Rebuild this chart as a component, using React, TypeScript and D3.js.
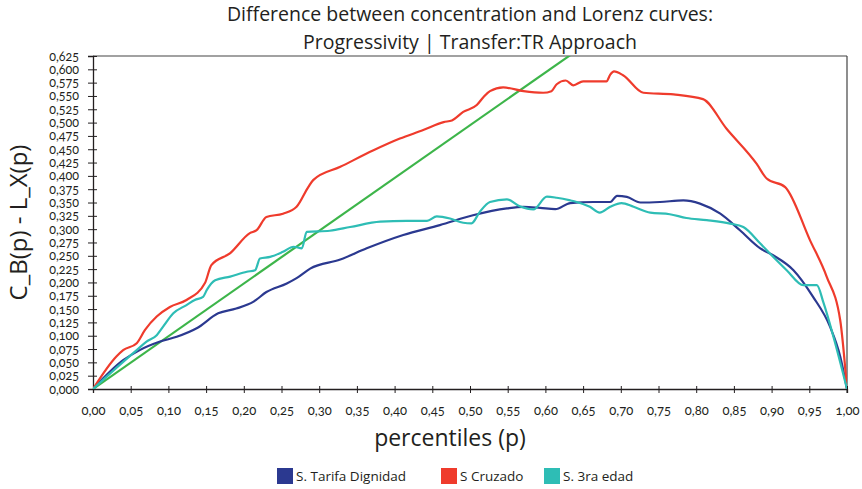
import React, { useEffect, useRef } from "react";
import * as d3 from "d3";

// percentile grid + values, one series at a time
const bluePct = [0, 0.04, 0.062, 0.089, 0.111, 0.1375, 0.166, 0.19, 0.213, 0.23, 0.257, 0.27, 0.288, 0.328, 0.363, 0.4115, 0.46, 0.504, 0.549, 0.571, 0.593, 0.613, 0.633, 0.664, 0.686, 0.695, 0.708, 0.726, 0.752, 0.783, 0.805, 0.832, 0.858, 0.885, 0.902, 0.929, 0.955, 0.9775, 0.991, 1];
const blueVals = [0, 0.054, 0.073, 0.089, 0.098, 0.114, 0.142, 0.151, 0.164, 0.182, 0.198, 0.208, 0.226, 0.243, 0.264, 0.289, 0.3075, 0.326, 0.339, 0.342, 0.34, 0.3375, 0.349, 0.351, 0.351, 0.3625, 0.3606, 0.35, 0.351, 0.354, 0.348, 0.329, 0.298, 0.264, 0.251, 0.223, 0.173, 0.117, 0.061, 0];

const redPct = [0, 0.031, 0.04, 0.058, 0.069, 0.0845, 0.102, 0.124, 0.1485, 0.157, 0.182, 0.208, 0.217, 0.23, 0.252, 0.27, 0.2855, 0.292, 0.328, 0.372, 0.407, 0.438, 0.465, 0.476, 0.491, 0.509, 0.518, 0.5265, 0.544, 0.571, 0.597, 0.608, 0.615, 0.627, 0.637, 0.65, 0.681, 0.686, 0.691, 0.703, 0.73, 0.77, 0.809, 0.84, 0.88, 0.8935, 0.918, 0.951, 0.973, 0.991, 1];
const redVals = [0, 0.061, 0.073, 0.086, 0.111, 0.136, 0.154, 0.167, 0.199, 0.2325, 0.255, 0.2925, 0.298, 0.323, 0.329, 0.342, 0.379, 0.392, 0.417, 0.448, 0.47, 0.486, 0.501, 0.504, 0.52, 0.533, 0.548, 0.559, 0.566, 0.559, 0.556, 0.559, 0.572, 0.579, 0.57, 0.5775, 0.5775, 0.59, 0.596, 0.589, 0.556, 0.553, 0.544, 0.489, 0.423, 0.395, 0.379, 0.279, 0.211, 0.129, 0];

const tealPct = [0, 0.04, 0.058, 0.071, 0.0845, 0.093, 0.1065, 0.124, 0.135, 0.146, 0.151, 0.162, 0.182, 0.204, 0.215, 0.2215, 0.235, 0.252, 0.266, 0.277, 0.2834, 0.314, 0.341, 0.381, 0.416, 0.443, 0.456, 0.4735, 0.491, 0.502, 0.513, 0.5265, 0.549, 0.566, 0.584, 0.602, 0.615, 0.633, 0.6415, 0.659, 0.672, 0.686, 0.701, 0.717, 0.739, 0.765, 0.787, 0.814, 0.845, 0.8625, 0.885, 0.898, 0.92, 0.942, 0.96, 0.969, 0.982, 1];
const tealVals = [0, 0.051, 0.073, 0.089, 0.101, 0.117, 0.142, 0.1575, 0.167, 0.173, 0.186, 0.204, 0.211, 0.22, 0.223, 0.245, 0.248, 0.2575, 0.267, 0.264, 0.295, 0.297, 0.304, 0.314, 0.3156, 0.3156, 0.324, 0.32, 0.312, 0.311, 0.3325, 0.351, 0.356, 0.343, 0.337, 0.361, 0.359, 0.354, 0.351, 0.342, 0.331, 0.342, 0.349, 0.342, 0.331, 0.328, 0.321, 0.317, 0.3105, 0.304, 0.273, 0.254, 0.223, 0.195, 0.195, 0.161, 0.098, 0];

// the diagonal reference line
const greenPct = [0, 1];
const greenVals = [0, 0.99];

const xTicks = d3.range(0, 21).map((i) => i * 0.05);
const yTicks = d3.range(0, 26).map((i) => i * 0.025);

const legendNames = ["S. Tarifa Dignidad", "S Cruzado", "S. 3ra edad"];

const App = () => {
  const chartRef = useRef(null);

  useEffect(() => {
    d3.select(chartRef.current).selectAll("*").remove();

    const width = 862;
    const height = 489;
    const margin = { top: 56, right: 15, bottom: 100, left: 93 };

    const svg = d3.select(chartRef.current).attr("width", width).attr("height", height);

    const x = d3.scaleLinear().domain([0, 1]).range([margin.left, width - margin.right]);
    const y = d3.scaleLinear().domain([0, 0.625]).range([height - margin.bottom, margin.top]);

    const font = "'Open Sans', Lato, sans-serif";
    const tickFont = "Lato, sans-serif";

    // title
    const title = svg.append("text")
      .attr("x", (x(0) + x(1)) / 2)
      .attr("text-anchor", "middle")
      .attr("fill", "#231f20")
      .style("font-family", font)
      .style("font-size", "19.5px");
    title.append("tspan").attr("x", (x(0) + x(1)) / 2).attr("y", 21).text("Difference between concentration and Lorenz curves:");
    title.append("tspan").attr("x", (x(0) + x(1)) / 2).attr("y", 49).text("Progressivity | Transfer:TR Approach");

    // frame top + right
    svg.append("line").attr("x1", x(0)).attr("x2", x(1)).attr("y1", y(0.625)).attr("y2", y(0.625)).attr("stroke", "#444").attr("stroke-width", 1.2);
    svg.append("line").attr("x1", x(1)).attr("x2", x(1)).attr("y1", y(0.625)).attr("y2", y(0) + 4).attr("stroke", "#444").attr("stroke-width", 1.2);

    const fmtX = (d) => d3.format(".2f")(d).replace(".", ",");
    const fmtY = (d) => d3.format(".3f")(d).replace(".", ",");

    const yAxis = svg.append("g")
      .attr("transform", `translate(${x(0)},0)`)
      .call(d3.axisLeft(y).tickValues(yTicks).tickFormat(fmtY).tickSizeOuter(0).tickSize(5).tickPadding(9));
    yAxis.selectAll(".tick line").attr("x2", -5).attr("x1", 4).attr("stroke", "#231f20");
    yAxis.select(".domain").attr("stroke", "#231f20").attr("stroke-width", 1.3);
    yAxis.selectAll("text").attr("fill", "#231f20").style("font-family", tickFont).style("font-size", "12.5px").style("font-variant-numeric", "oldstyle-nums");

    const xAxis = svg.append("g")
      .attr("transform", `translate(0,${y(0)})`)
      .call(d3.axisBottom(x).tickValues(xTicks).tickFormat(fmtX).tickSizeOuter(0).tickSize(4).tickPadding(13));
    xAxis.selectAll(".tick line").attr("y1", -3).attr("y2", 4).attr("stroke", "#231f20");
    xAxis.select(".domain").attr("stroke", "#231f20").attr("stroke-width", 1.3);
    xAxis.selectAll("text").attr("fill", "#231f20").style("font-family", tickFont).style("font-size", "13px").style("font-variant-numeric", "oldstyle-nums");

    // axis titles
    svg.append("text")
      .attr("transform", `translate(27,${(y(0) + y(0.625)) / 2}) rotate(-90)`)
      .attr("text-anchor", "middle")
      .attr("fill", "#231f20")
      .style("font-family", font)
      .style("font-size", "24px")
      .text("C_B(p) - L_X(p)");

    svg.append("text")
      .attr("x", 450)
      .attr("y", 446)
      .attr("text-anchor", "middle")
      .attr("fill", "#231f20")
      .style("font-family", font)
      .style("font-size", "23px")
      .text("percentiles (p)");

    svg.append("clipPath").attr("id", "plotClip")
      .append("rect")
      .attr("x", x(0)).attr("y", y(0.625))
      .attr("width", x(1) - x(0)).attr("height", y(0) - y(0.625));

    const series = [
      { p: greenPct, v: greenVals, color: "#3db54a", curve: d3.curveLinear },
      { p: bluePct, v: blueVals, color: "#2b3990", curve: d3.curveMonotoneX },
      { p: redPct, v: redVals, color: "#ef3b2c", curve: d3.curveMonotoneX },
      { p: tealPct, v: tealVals, color: "#2ebdb5", curve: d3.curveMonotoneX },
    ];

    series.forEach((s) => {
      const line = d3.line()
        .x((d, i) => x(s.p[i]))
        .y((d) => y(d))
        .curve(s.curve);
      svg.append("path")
        .attr("clip-path", "url(#plotClip)")
        .attr("d", line(s.v))
        .attr("fill", "none")
        .attr("stroke", s.color)
        .attr("stroke-width", 2.2)
        .attr("stroke-linejoin", "round");
    });

    // legend
    const legendColors = ["#2b3990", "#ef3b2c", "#2ebdb5"];
    const legendX = [277, 441, 544];
    legendNames.forEach((name, i) => {
      svg.append("rect")
        .attr("x", legendX[i]).attr("y", 468)
        .attr("width", 16).attr("height", 16)
        .attr("fill", legendColors[i]);
      svg.append("text")
        .attr("x", legendX[i] + 19).attr("y", 481)
        .attr("fill", "#231f20")
        .style("font-family", font)
        .style("font-size", "13.5px")
        .text(name);
    });
  }, []);

  return <svg ref={chartRef} style={{ position: "absolute", left: 0, top: 0 }}></svg>;
};

export default App;
